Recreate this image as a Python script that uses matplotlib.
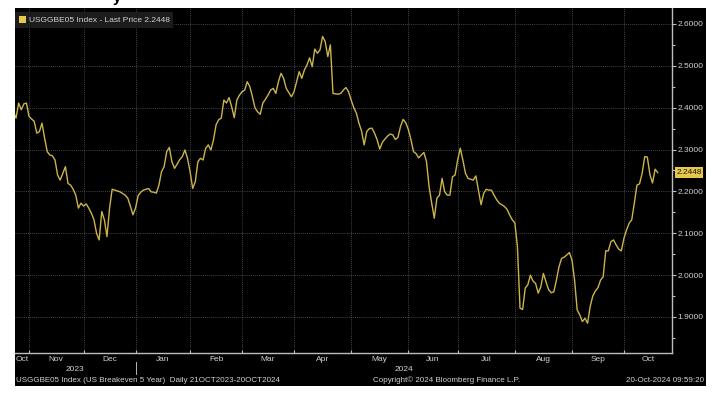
import numpy as np
import pandas as pd
import matplotlib
matplotlib.use("Agg")
import matplotlib.pyplot as plt
from matplotlib.patches import Patch, Rectangle
from matplotlib.ticker import MultipleLocator, FormatStrFormatter

# USGGBE05 Index の日次終値
DATES = [
    "2023-10-24", "2023-10-25", "2023-10-26", "2023-10-27", "2023-10-30", "2023-10-31",
    "2023-11-01", "2023-11-03", "2023-11-06", "2023-11-07", "2023-11-08", "2023-11-09", "2023-11-10",
    "2023-11-13", "2023-11-14", "2023-11-15", "2023-11-16", "2023-11-17", "2023-11-20", "2023-11-21",
    "2023-11-22", "2023-11-24", "2023-11-27", "2023-11-28", "2023-11-29", "2023-11-30",
    "2023-12-01", "2023-12-04", "2023-12-05", "2023-12-06", "2023-12-07", "2023-12-08", "2023-12-11",
    "2023-12-12", "2023-12-13", "2023-12-14", "2023-12-15", "2023-12-18", "2023-12-19", "2023-12-20",
    "2023-12-21", "2023-12-22", "2023-12-26", "2023-12-27", "2023-12-28", "2023-12-29",
    "2024-01-02", "2024-01-03", "2024-01-04", "2024-01-05", "2024-01-08", "2024-01-09", "2024-01-10",
    "2024-01-11", "2024-01-12", "2024-01-16", "2024-01-17", "2024-01-18", "2024-01-19", "2024-01-22",
    "2024-01-23", "2024-01-24", "2024-01-25", "2024-01-26", "2024-01-29", "2024-01-30", "2024-01-31",
    "2024-02-01", "2024-02-02", "2024-02-05", "2024-02-06", "2024-02-07", "2024-02-08", "2024-02-09",
    "2024-02-12", "2024-02-13", "2024-02-14", "2024-02-15", "2024-02-16", "2024-02-20", "2024-02-21",
    "2024-02-22", "2024-02-23", "2024-02-26", "2024-02-27", "2024-02-28", "2024-02-29",
    "2024-03-01", "2024-03-04", "2024-03-05", "2024-03-06", "2024-03-07", "2024-03-08", "2024-03-11",
    "2024-03-12", "2024-03-13", "2024-03-14", "2024-03-15", "2024-03-18", "2024-03-19", "2024-03-20",
    "2024-03-21", "2024-03-22", "2024-03-25", "2024-03-26", "2024-03-27", "2024-03-28",
    "2024-04-01", "2024-04-02", "2024-04-03", "2024-04-04", "2024-04-05", "2024-04-08", "2024-04-09",
    "2024-04-10", "2024-04-11", "2024-04-12", "2024-04-15", "2024-04-16", "2024-04-17", "2024-04-18",
    "2024-04-19", "2024-04-22", "2024-04-23", "2024-04-24", "2024-04-25", "2024-04-26", "2024-04-29",
    "2024-04-30",
    "2024-05-01", "2024-05-02", "2024-05-03", "2024-05-06", "2024-05-07", "2024-05-08", "2024-05-09",
    "2024-05-10", "2024-05-13", "2024-05-14", "2024-05-15", "2024-05-16", "2024-05-17", "2024-05-20",
    "2024-05-21", "2024-05-22", "2024-05-23", "2024-05-24", "2024-05-28", "2024-05-29", "2024-05-30",
    "2024-05-31",
    "2024-06-03", "2024-06-04", "2024-06-05", "2024-06-06", "2024-06-07", "2024-06-10", "2024-06-11",
    "2024-06-12", "2024-06-13", "2024-06-14", "2024-06-17", "2024-06-18", "2024-06-20", "2024-06-21",
    "2024-06-24", "2024-06-25", "2024-06-26", "2024-06-27", "2024-06-28",
    "2024-07-01", "2024-07-02", "2024-07-03", "2024-07-05", "2024-07-08", "2024-07-09", "2024-07-10",
    "2024-07-11", "2024-07-12", "2024-07-15", "2024-07-16", "2024-07-17", "2024-07-18", "2024-07-19",
    "2024-07-22", "2024-07-23", "2024-07-24", "2024-07-25", "2024-07-26", "2024-07-29", "2024-07-30",
    "2024-07-31",
    "2024-08-01", "2024-08-02", "2024-08-05", "2024-08-06", "2024-08-07", "2024-08-08", "2024-08-09",
    "2024-08-12", "2024-08-13", "2024-08-14", "2024-08-15", "2024-08-16", "2024-08-19", "2024-08-20",
    "2024-08-21", "2024-08-22", "2024-08-23", "2024-08-26", "2024-08-27", "2024-08-28", "2024-08-29",
    "2024-08-30",
    "2024-09-03", "2024-09-04", "2024-09-05", "2024-09-06", "2024-09-09", "2024-09-10", "2024-09-11",
    "2024-09-12", "2024-09-13", "2024-09-16", "2024-09-17", "2024-09-18", "2024-09-19", "2024-09-20",
    "2024-09-23", "2024-09-24", "2024-09-25", "2024-09-26", "2024-09-27", "2024-09-30",
    "2024-10-01", "2024-10-02", "2024-10-03", "2024-10-04", "2024-10-07", "2024-10-08", "2024-10-09",
    "2024-10-10", "2024-10-11", "2024-10-14", "2024-10-15", "2024-10-16", "2024-10-17", "2024-10-18",
]

PRICES = [
    2.390, 2.375, 2.411, 2.395, 2.409, 2.411,
    2.379, 2.367, 2.339, 2.343, 2.363, 2.327, 2.295,
    2.287, 2.285, 2.275, 2.239, 2.227, 2.243, 2.259,
    2.219, 2.215, 2.205, 2.191, 2.160, 2.172,
    2.165, 2.170, 2.160, 2.148, 2.132, 2.100, 2.084,
    2.152, 2.132, 2.092, 2.160, 2.205, 2.203, 2.201,
    2.199, 2.195, 2.191, 2.184, 2.165, 2.144,
    2.160, 2.190, 2.198, 2.203, 2.205, 2.207, 2.199,
    2.198, 2.196, 2.215, 2.247, 2.259, 2.295, 2.305,
    2.271, 2.255, 2.265, 2.276, 2.283, 2.299, 2.279,
    2.247, 2.207, 2.223, 2.271, 2.279, 2.275, 2.303,
    2.311, 2.299, 2.323, 2.359, 2.371, 2.375, 2.418,
    2.411, 2.424, 2.402, 2.376, 2.418, 2.430,
    2.438, 2.442, 2.462, 2.450, 2.426, 2.399, 2.390,
    2.384, 2.411, 2.420, 2.430, 2.442, 2.446, 2.434,
    2.462, 2.482, 2.470, 2.446, 2.436, 2.426,
    2.438, 2.462, 2.486, 2.470, 2.490, 2.502, 2.519,
    2.498, 2.540, 2.530, 2.538, 2.570, 2.558, 2.522,
    2.550, 2.434, 2.433, 2.432, 2.434, 2.442, 2.448,
    2.438,
    2.418, 2.400, 2.387, 2.363, 2.344, 2.311, 2.343,
    2.350, 2.351, 2.339, 2.323, 2.301, 2.317, 2.325,
    2.332, 2.337, 2.335, 2.324, 2.329, 2.355, 2.372,
    2.364,
    2.348, 2.324, 2.295, 2.290, 2.280, 2.287, 2.293,
    2.271, 2.211, 2.172, 2.136, 2.184, 2.191, 2.231,
    2.199, 2.191, 2.191, 2.235, 2.239,
    2.275, 2.303, 2.275, 2.243, 2.231, 2.229, 2.227,
    2.237, 2.203, 2.168, 2.195, 2.205, 2.203, 2.203,
    2.191, 2.180, 2.172, 2.168, 2.164, 2.157, 2.144,
    2.132,
    2.125, 2.068, 1.921, 1.918, 1.969, 1.977, 2.000,
    1.986, 1.980, 1.957, 1.972, 2.004, 1.984, 1.965,
    1.958, 1.960, 1.988, 2.020, 2.040, 2.043, 2.048,
    2.054,
    2.036, 1.988, 1.917, 1.905, 1.889, 1.897, 1.885,
    1.925, 1.950, 1.962, 1.970, 1.988, 1.996, 2.058,
    2.058, 2.080, 2.084, 2.072, 2.062, 2.058,
    2.088, 2.108, 2.124, 2.132, 2.172, 2.215, 2.218,
    2.243, 2.283, 2.282, 2.240, 2.220, 2.253, 2.2448,
]

# 横軸は営業日ベース（米国債市場の休場日は詰める）
HOLIDAYS = [
    "2023-11-23", "2023-12-25", "2024-01-01", "2024-01-15", "2024-02-19",
    "2024-03-29", "2024-05-27", "2024-06-19", "2024-07-04", "2024-09-02",
]
START = "2023-10-23"
MONTH_STARTS = pd.date_range("2023-11-01", "2024-10-01", freq="MS")
YEARS = ["2023", "2024"]

TICKER = "USGGBE05 Index"
LAST_PRICE = PRICES[-1]
FOOTER_LEFT = "USGGBE05 Index (US Breakeven 5 Year)  Daily 21OCT2023-20OCT2024"
FOOTER_MID = "Copyright\u00a9 2024 Bloomberg Finance L.P."
FOOTER_RIGHT = "20-Oct-2024 09:59:20"

LINE_COLOR = "#cbb54a"
TAG_COLOR = "#e6c84c"
TEXT_COLOR = "#d2d2d2"
AXIS_COLOR = "#bdbdbd"
GRID_COLOR = "#5c5c5c"

W, H = 718, 395

plt.rcParams["font.family"] = ["Liberation Sans", "DejaVu Sans"]

fig = plt.figure(figsize=(W / 100, H / 100), dpi=100, facecolor="white")

# Bloomberg画面の黒いパネル（軸より後ろ）
fig.patches.append(Rectangle((15 / W, 1 - 386 / H), (706 - 15) / W, (386 - 8) / H,
                             transform=fig.transFigure, facecolor="black",
                             edgecolor="none", zorder=-10))
# 上に切れて見えている見出しの一部
fig.text(113 / W, 1 - 2 / H, "y", fontsize=11, color="black", va="baseline",
         fontweight="bold")

ax = fig.add_axes([15 / W, 1 - 353 / H, (672 - 15) / W, (353 - 8) / H])
ax.set_zorder(5)
ax.set_facecolor("black")

dates = np.array(DATES, dtype="datetime64[D]")
pos = np.busday_count(START, dates, holidays=HOLIDAYS)
ax.plot(pos, PRICES, color=LINE_COLOR, lw=1.0, solid_joinstyle="round", zorder=3)

xmin, xmax = 1.6, 254.5
ax.set_xlim(xmin, xmax)
ax.set_ylim(1.814, 2.638)

# 縦軸（右側）
ax.yaxis.tick_right()
ax.yaxis.set_major_locator(MultipleLocator(0.1))
ax.yaxis.set_minor_locator(MultipleLocator(0.05))
ax.yaxis.set_major_formatter(FormatStrFormatter("%.4f"))
ax.tick_params(axis="y", which="major", colors=AXIS_COLOR, labelcolor=TEXT_COLOR,
               labelsize=6, length=3, width=0.8, pad=1)
ax.tick_params(axis="y", which="minor", colors=AXIS_COLOR, length=2, width=0.8)

# 横軸（月の境目に目盛り、ラベルは月の中央）
month_pos = np.busday_count(START, MONTH_STARTS.values.astype("datetime64[D]"),
                            holidays=HOLIDAYS)
ax.set_xticks(month_pos)
ax.set_xticklabels([])
ax.tick_params(axis="x", colors=AXIS_COLOR, length=2, width=0.8, direction="in")

edges = np.concatenate([[xmin], month_pos, [xmax]])
labels = ["Oct"] + [m.strftime("%b") for m in MONTH_STARTS]
trans = ax.get_xaxis_transform()
for i, lab in enumerate(labels):
    ax.text((edges[i] + edges[i + 1]) / 2, -0.018, lab, transform=trans,
            ha="center", va="center", fontsize=6, color=TEXT_COLOR, clip_on=False)

jan_pos = month_pos[2]
for lo, hi, yr in zip([xmin, jan_pos], [jan_pos, xmax], YEARS):
    ax.text((lo + hi) / 2, -0.047, yr, transform=trans, ha="center", va="center",
            fontsize=6, color=TEXT_COLOR, clip_on=False)
ax.plot([jan_pos, jan_pos], [-0.027, -0.062], transform=trans, color=TEXT_COLOR,
        lw=0.6, clip_on=False)

for side in ["left", "top"]:
    ax.spines[side].set_visible(False)
for side in ["right", "bottom"]:
    ax.spines[side].set_color(AXIS_COLOR)
    ax.spines[side].set_linewidth(1.0)

ax.grid(True, which="major", color=GRID_COLOR, linestyle=(0, (1, 1.5)), lw=0.6)
ax.set_axisbelow(True)

# 凡例
handle = Patch(facecolor=TAG_COLOR, edgecolor="none")
leg = ax.legend([handle], [f"{TICKER} - Last Price {LAST_PRICE:.4f}"],
                loc="upper left", bbox_to_anchor=(0.0, 1 - 4 / 345),
                frameon=True, facecolor="#1c1c1c", edgecolor="none", framealpha=1,
                fancybox=False, fontsize=6, labelcolor=TEXT_COLOR,
                handlelength=0.9, handleheight=0.9, handletextpad=0.3,
                borderpad=0.45, borderaxespad=0)

# 最新値タグ
ax.annotate(f"{LAST_PRICE:.4f}", xy=(1.0, LAST_PRICE), xycoords=("axes fraction", "data"),
            xytext=(3, 0), textcoords="offset points", ha="left", va="center",
            fontsize=6, color="#1a1a1a",
            bbox=dict(boxstyle="square,pad=0.2", fc=TAG_COLOR, ec="none"))

# フッター
fy = 1 - 380 / H
fig.text(16 / W, fy, FOOTER_LEFT, fontsize=5.8, color=TEXT_COLOR, va="center")
fig.text(373 / W, fy, FOOTER_MID, fontsize=5.8, color=TEXT_COLOR, va="center")
fig.text(704 / W, fy, FOOTER_RIGHT, fontsize=5.8, color=TEXT_COLOR, va="center", ha="right")

fig.savefig("out.png", dpi=100, facecolor="white")
